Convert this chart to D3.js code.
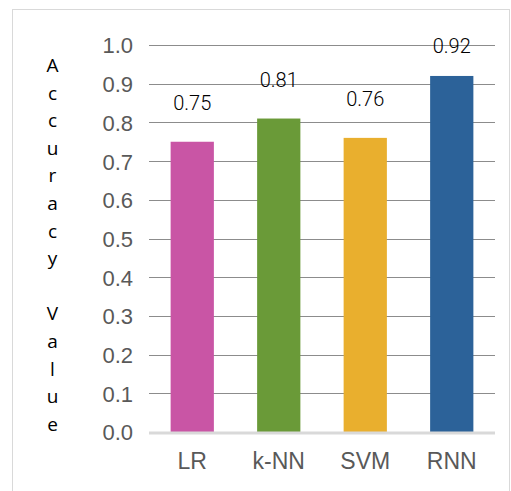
<!DOCTYPE html>
<html>
<head>
<meta charset="utf-8">
<script src="https://cdn.jsdelivr.net/npm/d3@7"></script>
<style>
  html, body { margin: 0; padding: 0; background: #fff; }
  svg { display: block; }
</style>
</head>
<body>
<svg id="chart" width="511" height="491"></svg>
<script>
const categories = ["LR", "k-NN", "SVM", "RNN"];
const values = [0.75, 0.81, 0.76, 0.92];
const valueLabels = ["0.75", "0.81", "0.76", "0.92"];
const colors = ["#C955A5", "#6A9A38", "#E9AF2E", "#2C6299"];
const yTicks = [0, 0.1, 0.2, 0.3, 0.4, 0.5, 0.6, 0.7, 0.8, 0.9, 1.0];
const yTitle = "Accuracy Value";

const svg = d3.select("#chart");
const plot = { left: 149, right: 495, top: 45, bottom: 432 };

// outer border
svg.append("rect")
  .attr("x", 12.5).attr("y", 9.5)
  .attr("width", 497).attr("height", 492)
  .attr("fill", "none").attr("stroke", "#d9d9d9").attr("stroke-width", 1);

const x = d3.scaleBand().domain(categories)
  .range([plot.left, plot.right]).paddingInner(0.5).paddingOuter(0.25);
const y = d3.scaleLinear().domain([0, 1]).range([plot.bottom, plot.top]);

// gridlines
svg.append("g").selectAll("line").data(yTicks.filter(d => d > 0)).join("line")
  .attr("x1", plot.left).attr("x2", plot.right)
  .attr("y1", d => Math.round(y(d)) + 0.5).attr("y2", d => Math.round(y(d)) + 0.5)
  .attr("stroke", "#8c8c8c").attr("stroke-width", 1);

// y tick labels
const yAxis = d3.axisLeft(y).tickValues(yTicks).tickFormat(d3.format(".1f")).tickSize(0).tickPadding(0);
const gy = svg.append("g").attr("transform", `translate(${plot.left - 16},0)`).call(yAxis);
gy.select(".domain").remove();
gy.selectAll("text")
  .attr("font-family", "'Liberation Sans', Arial, sans-serif")
  .attr("font-size", 22).attr("fill", "#595959")
  .attr("dy", "0.36em");

// bars
svg.append("g").selectAll("rect").data(categories).join("rect")
  .attr("x", d => x(d))
  .attr("width", x.bandwidth())
  .attr("y", (d, i) => y(values[i]))
  .attr("height", (d, i) => y(0) - y(values[i]))
  .attr("fill", (d, i) => colors[i]);

// bottom axis line
svg.append("line")
  .attr("x1", plot.left).attr("x2", plot.right)
  .attr("y1", y(0) + 1).attr("y2", y(0) + 1)
  .attr("stroke", "#d9d9d9").attr("stroke-width", 3);

// x category labels
const xAxis = d3.axisBottom(x).tickSize(0).tickPadding(0);
const gx = svg.append("g").attr("transform", `translate(0,${plot.bottom + 21})`).call(xAxis);
gx.select(".domain").remove();
gx.selectAll("text")
  .attr("font-family", "'Liberation Sans', Arial, sans-serif")
  .attr("font-size", 23).attr("fill", "#595959")
  .attr("dy", "0.71em");

// value labels
svg.append("g").selectAll("text").data(categories).join("text")
  .attr("x", d => x(d) + x.bandwidth() / 2)
  .attr("y", (d, i) => Math.max(y(values[i]) - 32, y(1) + 8))
  .attr("text-anchor", "middle")
  .attr("font-family", "Roboto, sans-serif")
  .attr("font-weight", 300)
  .attr("font-size", 20).attr("fill", "#000")
  .text((d, i) => valueLabels[i]);

// vertical stacked y title
const letters = yTitle.split("");
svg.append("g").selectAll("text").data(letters).join("text")
  .attr("x", 52.5)
  .attr("y", (d, i) => 72 + i * 27.6)
  .attr("text-anchor", "middle")
  .attr("font-family", "'Open Sans', 'Noto Sans', sans-serif")
  .attr("font-size", 19).attr("fill", "#000")
  .text(d => d);
</script>
</body>
</html>
